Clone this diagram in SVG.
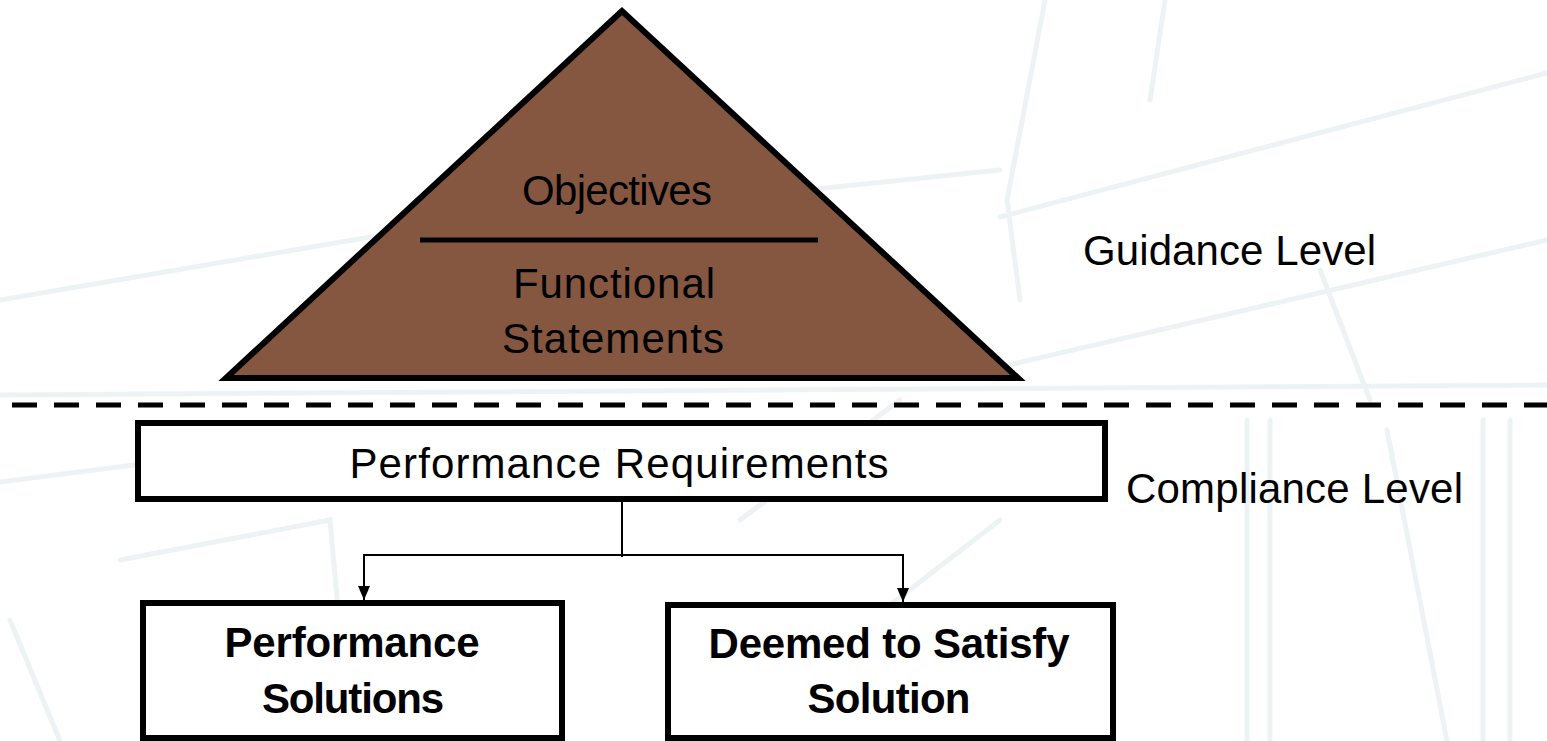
<svg xmlns="http://www.w3.org/2000/svg" width="1547" height="741" viewBox="0 0 1547 741">
  <style>
    .bg { fill: none; stroke: #edf3f5; stroke-width: 5; stroke-linecap: round; }
    .txt { font-family: "Liberation Sans", Arial, sans-serif; font-size: 42px; fill: #000; }
    .bold { font-weight: bold; }
    .box { fill: #fff; stroke: #000; stroke-width: 6; }
    .conn { fill: none; stroke: #000; stroke-width: 2; }
  </style>
  <defs>
    <marker id="arrow" viewBox="0 0 14 12" refX="14" refY="6" markerUnits="userSpaceOnUse" markerWidth="14" markerHeight="12" orient="auto">
      <path d="M0,0 L14,6 L0,12 Z" fill="#000"/>
    </marker>
  </defs>
  <rect width="1547" height="741" fill="#fff"/>
  <g id="background">
    <path class="bg" d="M0,300 L400,232 L1000,170"/>
    <path class="bg" d="M1000,217 L1547,73"/>
    <path class="bg" d="M1000,367 L1547,240"/>
    <path class="bg" d="M1045,0 L1007,200 L1020,300"/>
    <path class="bg" d="M1165,0 L1150,100"/>
    <path class="bg" d="M1320,270 L1370,400"/>
    <path class="bg" d="M1247,420 L1247,741"/>
    <path class="bg" d="M1270,420 L1270,741"/>
    <path class="bg" d="M1483,420 L1483,741"/>
    <path class="bg" d="M1510,420 L1510,741"/>
    <path class="bg" d="M1387,430 L1447,741"/>
    <path class="bg" d="M0,482 L330,440 L600,470"/>
    <path class="bg" d="M120,560 L330,520 L350,741"/>
    <path class="bg" d="M10,620 L60,741"/>
    <path class="bg" d="M780,690 L1000,520"/>
    <path class="bg" d="M740,520 L900,400"/>
    <path class="bg" d="M0,395 L1547,385"/>
  </g>
  <g id="guidance-triangle">
    <polygon points="622,11 226,378 1018,378" fill="#855741" stroke="#000" stroke-width="6" stroke-linejoin="miter"/>
    <line x1="420" y1="240" x2="818" y2="240" stroke="#000" stroke-width="5"/>
    <text class="txt" x="617" y="205" text-anchor="middle" textLength="190">Objectives</text>
    <text class="txt" x="614" y="298" text-anchor="middle" textLength="202">Functional</text>
    <text class="txt" x="613" y="353" text-anchor="middle" textLength="222">Statements</text>
  </g>
  <g id="guidance-label">
    <text class="txt" x="1083" y="265" textLength="293">Guidance Level</text>
  </g>
  <g id="divider">
    <line x1="12" y1="405" x2="1547" y2="405" stroke="#000" stroke-width="5" stroke-dasharray="25 17"/>
  </g>
  <g id="performance-requirements">
    <rect class="box" x="138" y="423" width="967" height="76"/>
    <text class="txt" x="619" y="478" text-anchor="middle" textLength="539">Performance Requirements</text>
  </g>
  <g id="compliance-label">
    <text class="txt" x="1126" y="503" textLength="337">Compliance Level</text>
  </g>
  <g id="connectors">
    <path class="conn" d="M622,502 L622,557"/>
    <path class="conn" d="M363,555 L903,555"/>
    <path class="conn" d="M364,554 L364,600" marker-end="url(#arrow)"/>
    <path class="conn" d="M903,554 L903,602" marker-end="url(#arrow)"/>
  </g>
  <g id="performance-solutions">
    <rect class="box" x="143" y="603" width="419" height="135"/>
    <text class="txt bold" x="352" y="657" text-anchor="middle" textLength="255">Performance</text>
    <text class="txt bold" x="353" y="713" text-anchor="middle" textLength="182">Solutions</text>
  </g>
  <g id="deemed-to-satisfy">
    <rect class="box" x="668" y="605" width="445" height="133"/>
    <text class="txt bold" x="889" y="658" text-anchor="middle" textLength="361">Deemed to Satisfy</text>
    <text class="txt bold" x="889" y="713" text-anchor="middle" textLength="163">Solution</text>
  </g>
</svg>
